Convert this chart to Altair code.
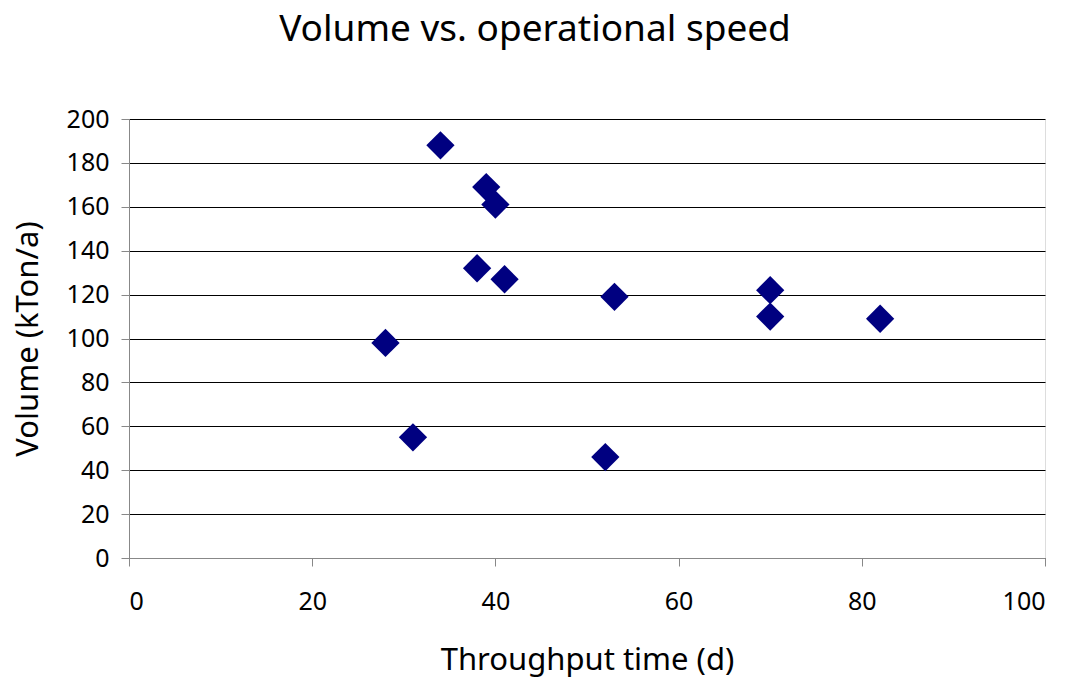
import altair as alt
import pandas as pd

throughput = [34, 39, 40, 38, 41, 28, 31, 53, 52, 70, 70, 82]
volume = [188, 169, 161, 132, 127, 98, 55, 119, 46, 122, 110, 109]

df = pd.DataFrame({"Throughput time (d)": throughput, "Volume (kTon/a)": volume})

FONT = "Noto Sans"

chart = alt.Chart(df).mark_point(
    shape="diamond", filled=True, size=800, color="#000080", opacity=1
).encode(
    x=alt.X("Throughput time (d):Q",
            scale=alt.Scale(domain=[0, 100], nice=False, zero=True),
            axis=alt.Axis(values=[0, 20, 40, 60, 80, 100], grid=False,
                          title="Throughput time (d)",
                          tickSize=8, labelPadding=23, titlePadding=31,
                          labelFont=FONT, titleFont=FONT,
                          titleFontWeight="normal",
                          labelFontSize=25, titleFontSize=31)),
    y=alt.Y("Volume (kTon/a):Q",
            scale=alt.Scale(domain=[0, 200], nice=False),
            axis=alt.Axis(values=list(range(0, 201, 20)), grid=True,
                          gridColor="#000000", gridWidth=1, gridOpacity=1,
                          title="Volume (kTon/a)",
                          labelFont=FONT, titleFont=FONT,
                          titleFontWeight="normal",
                          tickSize=8, labelPadding=12, titlePadding=22,
                          labelFontSize=25, titleFontSize=31)),
).properties(
    width=916, height=439,
    title=alt.TitleParams("Volume vs. operational speed", fontSize=37, font=FONT,
                          fontWeight="normal", color="#000000", dx=-52, offset=58),
    padding={"left": 129, "top": 119, "right": 29, "bottom": 123},
    autosize=alt.AutoSizeParams(type="none"),
).configure_axis(
    labelColor="#000000", titleColor="#000000",
    domainColor="#808080", domainWidth=2,
    tickColor="#808080", tickWidth=2,
).configure_view(stroke="#808080", strokeWidth=2).configure(background="#ffffff")

chart.save("out.html", embed_options={"renderer": "svg", "actions": False})
